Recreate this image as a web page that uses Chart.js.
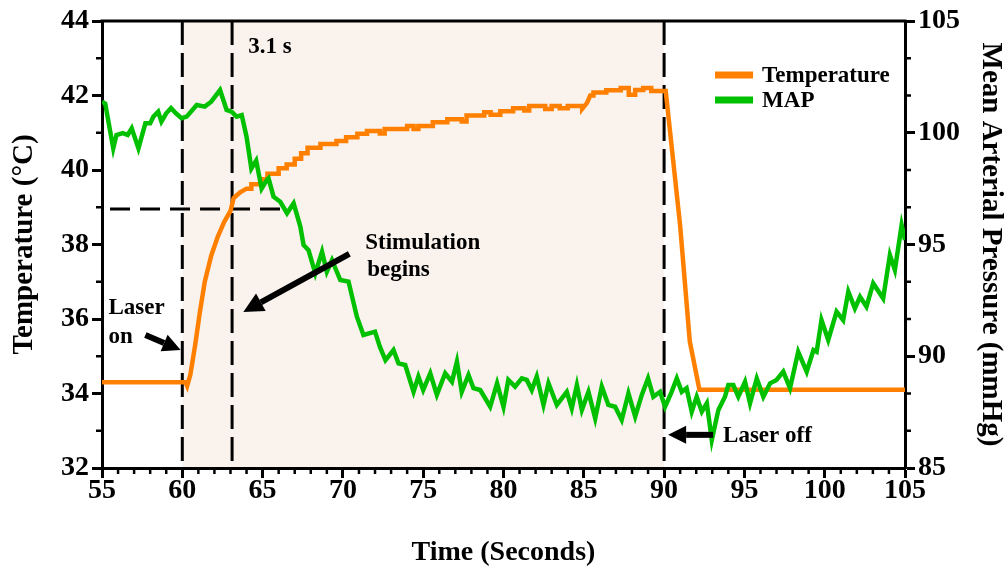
<!DOCTYPE html>
<html><head><meta charset="utf-8">
<script src="https://cdn.jsdelivr.net/npm/chart.js@4.4.1/dist/chart.umd.min.js"></script>
<style>html,body{margin:0;padding:0;background:#fff}#wrap{width:1008px;height:575px}</style>
</head><body><div id="wrap"><canvas id="c" width="1008" height="575"></canvas></div>
<script>
// ---- data ----
const tempTime = [55,60.2,60.3,60.5,60.8,61.1,61.4,61.8,62.2,62.6,63.0,63.2,63.6,64.0,
  64.3,64.3,64.9,64.9,65.3,65.3,66.0,66.0,66.5,66.5,67.0,67.0,67.4,67.4,67.8,67.8,68.6,68.6,69.6,69.6,70.2,70.2,70.9,70.9,71.5,71.5,72.3,72.3,72.6,72.6,
  74.0,74.0,74.4,74.4,74.7,74.7,75.6,75.6,76.5,76.5,77.4,77.4,77.7,77.7,78.8,78.8,79.2,79.2,79.8,79.8,80.6,80.6,81.3,81.3,81.6,81.6,82.6,82.6,83.0,83.0,
  83.5,83.5,84.0,84.0,84.9,84.9,85.2,85.4,85.6,85.6,86.4,86.4,87.3,87.3,87.8,87.8,88.2,88.2,88.7,88.7,89.2,89.2,90.1,
  91.0,91.6,92.2,105];
const tempValues = [34.3,34.3,34.2,34.5,35.3,36.2,37.0,37.7,38.2,38.6,38.9,39.25,39.4,39.5,
  39.5,39.62,39.62,39.75,39.75,39.9,39.9,40.05,40.05,40.15,40.15,40.3,40.3,40.45,40.45,40.6,40.6,40.7,40.7,40.78,40.78,40.88,40.88,40.97,40.97,41.05,41.05,40.98,40.98,41.1,
  41.1,41.18,41.18,41.1,41.1,41.18,41.18,41.28,41.28,41.36,41.36,41.3,41.3,41.46,41.46,41.55,41.55,41.48,41.48,41.58,41.58,41.66,41.66,41.6,41.6,41.72,41.72,41.64,41.64,41.72,
  41.72,41.66,41.66,41.72,41.72,41.64,41.8,42.0,42.0,42.08,42.08,42.14,42.14,42.2,42.2,42.02,42.02,42.15,42.15,42.2,42.2,42.12,42.12,
  38.5,35.4,34.1,34.1];
const mapTime = [55.0,55.2,55.7,55.9,56.3,56.6,56.85,57.27,57.7,58.0,58.2,58.5,58.7,59.0,59.3,59.6,59.96,60.27,60.9,61.4,61.8,62.35,62.76,63.07,63.38,63.7,64.0,64.3,64.6,64.94,65.27,65.37,65.68,66.1,66.52,66.93,67.35,67.55,67.86,68.28,68.7,69.0,69.32,69.84,70.35,70.87,71.28,72.0,72.3,72.65,73.15,73.46,73.88,74.4,74.7,75.0,75.44,75.85,76.37,76.79,77.1,77.4,77.82,78.13,78.55,79.17,79.6,80.0,80.3,80.72,81.14,81.45,81.76,82.07,82.49,82.8,83.32,83.94,84.25,84.57,84.88,85.29,85.71,86.12,86.53,86.95,87.36,87.78,88.2,88.61,89.0,89.33,89.75,90.06,90.47,90.79,91.1,91.4,91.72,92.03,92.35,92.66,92.97,93.38,93.79,94.0,94.31,94.62,95.04,95.35,95.77,96.18,96.6,97.0,97.42,97.84,98.35,98.88,99.3,99.5,99.8,100.22,100.74,101.15,101.47,101.88,102.2,102.6,103.02,103.64,104.06,104.37,104.79,105.0];
const mapValues = [101.39,101.3,99.3,99.9,99.98,99.9,100.2,99.3,100.42,100.42,100.72,100.94,100.5,100.87,101.1,100.87,100.65,100.72,101.24,101.17,101.39,101.91,101.02,100.94,100.72,100.79,99.82,98.4,98.75,97.5,97.89,97.96,97.14,96.91,96.4,96.84,95.8,94.98,94.75,93.71,94.68,93.78,94.3,93.41,93.34,91.77,90.95,91.1,90.43,89.83,90.28,89.68,89.61,88.41,89.09,88.49,89.24,88.27,89.24,88.86,89.76,88.41,89.16,88.57,88.49,87.74,88.79,87.74,88.94,88.64,89.01,88.94,88.49,89.09,87.82,88.79,87.82,88.41,87.67,88.71,87.6,88.41,87.22,88.64,87.82,87.74,87.15,88.34,87.3,88.27,89.01,88.19,88.41,87.74,88.41,89.01,88.41,88.57,87.52,88.19,87.52,87.9,86.25,87.6,88.19,88.71,88.71,88.19,88.86,87.9,89.01,88.19,88.79,88.94,89.31,88.57,90.2,89.31,90.28,90.2,91.62,90.73,92.0,91.62,92.89,92.14,92.66,92.22,93.26,92.59,94.53,93.86,95.87,95.2];

const xRange = [55, 105];
const leftRange = [32, 44];
const rightRange = [85, 105];
const shadeRange = [60, 90];
const markerTimes = [60, 63.1, 90];
const thresholdTemp = 38.95;
const thresholdSpan = [55.5, 66.2];
const seriesNames = ['Temperature', 'MAP'];
const titles = {x: 'Time (Seconds)', y: 'Temperature (°C)', y2: 'Mean Arterial Pressure (mmHg)'};

// ---- styling ----
const FONT = "'Liberation Serif','Times New Roman',serif";
const ORANGE = '#ff8000', GREEN = '#00c000';

const tempPoints = tempTime.map((t, i) => ({x: t, y: tempValues[i]}));
const mapPoints = mapTime.map((t, i) => ({x: t, y: mapValues[i]}));

function arrow(ctx, x1, y1, x2, y2, w, hl, hw) {
  const a = Math.atan2(y2 - y1, x2 - x1);
  const bx = x2 - hl * Math.cos(a), by = y2 - hl * Math.sin(a);
  ctx.lineWidth = w; ctx.lineCap = 'butt';
  ctx.beginPath(); ctx.moveTo(x1, y1); ctx.lineTo(bx, by); ctx.stroke();
  ctx.beginPath(); ctx.moveTo(x2, y2);
  ctx.lineTo(bx + hw / 2 * Math.sin(a), by - hw / 2 * Math.cos(a));
  ctx.lineTo(bx - hw / 2 * Math.sin(a), by + hw / 2 * Math.cos(a));
  ctx.closePath(); ctx.fill();
}

const deco = {
  id: 'deco',
  beforeDatasetsDraw(chart) {
    const {ctx, chartArea: a, scales: {x, y}} = chart;
    ctx.save();
    const s0 = x.getPixelForValue(shadeRange[0]), s1 = x.getPixelForValue(shadeRange[1]);
    ctx.fillStyle = '#faf2ed';
    ctx.fillRect(s0, a.top + 1, s1 - s0, a.bottom - a.top - 2);
    ctx.strokeStyle = '#000'; ctx.lineWidth = 3;
    ctx.setLineDash([24, 8]);
    for (const v of markerTimes) {
      const px = x.getPixelForValue(v);
      ctx.beginPath(); ctx.moveTo(px, a.top); ctx.lineTo(px, a.bottom); ctx.stroke();
    }
    ctx.setLineDash([20, 10]);
    const ty = y.getPixelForValue(thresholdTemp);
    ctx.beginPath(); ctx.moveTo(x.getPixelForValue(thresholdSpan[0]), ty); ctx.lineTo(x.getPixelForValue(thresholdSpan[1]), ty); ctx.stroke();
    ctx.restore();
  },
  afterDraw(chart) {
    const {ctx, chartArea: a, scales: {x, y, y2}} = chart;
    ctx.save();
    ctx.strokeStyle = '#000'; ctx.fillStyle = '#000';
    ctx.lineWidth = 3;
    ctx.beginPath(); ctx.moveTo(a.left - 1.5, a.top); ctx.lineTo(a.right + 1.5, a.top); ctx.stroke();
    ctx.lineWidth = 2.5;
    for (let v = xRange[0]; v <= xRange[1]; v++) {
      if (v % 5 === 0) continue;
      const px = x.getPixelForValue(v);
      ctx.beginPath(); ctx.moveTo(px, a.bottom); ctx.lineTo(px, a.bottom + 6); ctx.stroke();
    }
    for (let v = leftRange[0]; v <= leftRange[1]; v++) {
      if (v % 2 === 0) continue;
      const py = y.getPixelForValue(v);
      ctx.beginPath(); ctx.moveTo(a.left - 6, py); ctx.lineTo(a.left, py); ctx.stroke();
    }
    for (let k = 0; k <= 12; k++) {
      if (k % 3 === 0) continue;
      const py = y2.getPixelForValue(rightRange[0] + k * 5 / 3);
      ctx.beginPath(); ctx.moveTo(a.right, py); ctx.lineTo(a.right + 6, py); ctx.stroke();
    }
    ctx.font = `bold 23px ${FONT}`;
    ctx.textBaseline = 'middle'; ctx.textAlign = 'left';
    const P = (tx, tv) => [x.getPixelForValue(tx), y.getPixelForValue(tv)];
    let p, q;
    p = P(64.1, 43.3); ctx.fillText('3.1 s', p[0], p[1]);
    p = P(71.39, 38.04); ctx.fillText('Stimulation', p[0], p[1]);
    p = P(71.51, 37.32); ctx.fillText('begins', p[0], p[1]);
    p = P(55.4, 36.3); ctx.fillText('Laser', p[0], p[1]);
    p = P(55.4, 35.52); ctx.fillText('on', p[0], p[1]);
    p = P(93.67, 32.89); ctx.fillText('Laser off', p[0], p[1] + 1);
    p = P(57.7, 35.57); q = P(59.9, 35.17); arrow(ctx, p[0], p[1], q[0], q[1], 6, 18, 18);
    p = P(70.4, 37.75); q = P(63.8, 36.19); arrow(ctx, p[0], p[1], q[0], q[1], 6, 20, 20);
    p = P(93.05, 32.89); q = P(90.25, 32.89); arrow(ctx, p[0], p[1], q[0], q[1], 6, 18, 18);
    const ds = chart.data.datasets;
    const legY = [42.55, 41.88];
    ds.forEach((d, i) => {
      const l0 = P(93.17, legY[i]), l1 = P(95.54, legY[i]);
      ctx.strokeStyle = d.borderColor; ctx.lineWidth = 7;
      ctx.beginPath(); ctx.moveTo(l0[0], l0[1]); ctx.lineTo(l1[0], l1[1]); ctx.stroke();
      const t = P(96.1, legY[i]);
      ctx.fillStyle = '#000'; ctx.fillText(d.label, t[0], t[1] + 1);
    });
    ctx.restore();
  }
};

const tickFont = {family: FONT, size: 28, weight: 'bold', lineHeight: 1.2};
const titleFont = {family: FONT, size: 28, weight: 'bold', lineHeight: 1.2};
const vTitleFont = {family: FONT, size: 29, weight: 'bold', lineHeight: 1.2};

new Chart(document.getElementById('c'), {
  type: 'line',
  data: {
    datasets: [
      {label: seriesNames[0], data: tempPoints, yAxisID: 'y', borderColor: ORANGE, backgroundColor: ORANGE, borderWidth: 4.5, pointRadius: 0, tension: 0, order: 1},
      {label: seriesNames[1], data: mapPoints, yAxisID: 'y2', borderColor: GREEN, backgroundColor: GREEN, borderWidth: 4.5, pointRadius: 0, tension: 0, order: 0}
    ]
  },
  options: {
    responsive: false, animation: false, devicePixelRatio: 1,
    layout: {padding: {top: 21, left: 0, right: 0, bottom: 0}},
    plugins: {legend: {display: false}, tooltip: {enabled: false}},
    scales: {
      x: {
        type: 'linear', position: 'bottom', min: xRange[0], max: xRange[1],
        ticks: {stepSize: 5, color: '#000', font: tickFont, padding: -4, maxRotation: 0, autoSkip: false},
        grid: {drawOnChartArea: false, drawTicks: true, tickLength: 10, tickWidth: 3, tickColor: '#000'},
        border: {display: true, width: 3, color: '#000'},
        title: {display: true, text: titles.x, color: '#000', font: titleFont, padding: {top: 0, bottom: 5}},
        afterFit(s) { s.height = 107; }
      },
      y: {
        type: 'linear', position: 'left', min: leftRange[0], max: leftRange[1],
        ticks: {stepSize: 2, color: '#000', font: tickFont, padding: 3},
        grid: {drawOnChartArea: false, drawTicks: true, tickLength: 10, tickWidth: 3, tickColor: '#000'},
        border: {display: true, width: 3, color: '#000'},
        title: {display: true, text: titles.y, color: '#000', font: vTitleFont, padding: {top: 7, bottom: 0}},
        afterFit(s) { s.width = 102; }
      },
      y2: {
        type: 'linear', position: 'right', min: rightRange[0], max: rightRange[1],
        ticks: {stepSize: 5, color: '#000', font: tickFont, padding: 3},
        grid: {drawOnChartArea: false, drawTicks: true, tickLength: 10, tickWidth: 3, tickColor: '#000'},
        border: {display: true, width: 3, color: '#000'},
        title: {display: true, text: titles.y2, color: '#000', font: vTitleFont, padding: {top: 0, bottom: 0}},
        afterFit(s) { s.width = 103; }
      }
    }
  },
  plugins: [deco]
});
</script></body></html>
